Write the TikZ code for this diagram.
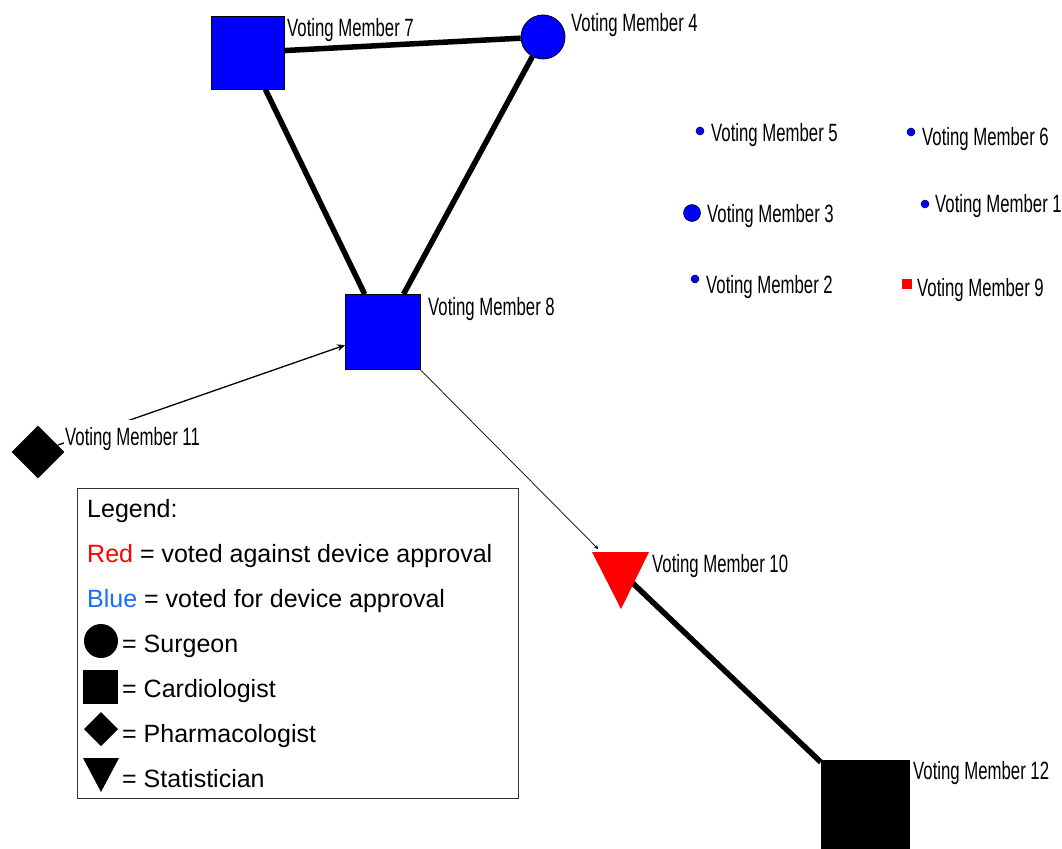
\documentclass[tikz,border=0pt]{standalone}
\usepackage{fontspec}
\setmainfont{Liberation Sans}
\newfontfamily\agency[FakeStretch=0.67]{Liberation Sans}
\usetikzlibrary{shapes.geometric,arrows.meta}
\pgfdeclarelayer{background}
\pgfsetlayers{background,main}
\definecolor{nodeblue}{RGB}{0,0,255}
\definecolor{nodered}{RGB}{255,0,0}
\definecolor{legblue}{RGB}{26,110,255}
\tikzset{
  member/.style={font=\agency\fontsize{25}{25}\selectfont, anchor=base west, inner sep=0pt},
  bluesq/.style={rectangle, draw=black, line width=0.8pt, fill=nodeblue, inner sep=0pt},
  bluedot/.style={circle, draw=black, line width=0.5pt, fill=nodeblue, inner sep=0pt},
  thickedge/.style={line width=5.5pt, black},
  thinedge/.style={line width=1.3pt, black},
  legtext/.style={font=\fontsize{25}{25}\selectfont, anchor=base west, inner sep=0pt},
}
\begin{document}
\begin{tikzpicture}[x=1pt,y=-1pt]
\useasboundingbox (0,0) rectangle (1062,848);

% main nodes
\node[bluesq, minimum size=73] (m7) at (247.5,52.5) {};
\node[circle, draw=black, line width=0.8pt, fill=nodeblue, minimum size=44, inner sep=0pt] (m4) at (543,37) {};
\node[bluesq, minimum size=75] (m8) at (383,332) {};
\node[diamond, fill=black, minimum size=53, inner sep=0pt] (m11) at (38,452) {};
\coordinate (m10) at (620,571);
\fill[nodered] (592,552) -- (649,552) -- (621,609) -- cycle;
\node[rectangle, fill=black, minimum size=89, inner sep=0pt] (m12) at (865.5,804.5) {};

% small nodes
\node[bluedot, minimum size=8] (m5) at (700,131) {};
\node[bluedot, minimum size=8] (m6) at (911,132) {};
\node[bluedot, minimum size=17] (m3) at (692,213) {};
\node[bluedot, minimum size=8] (m1) at (925,204) {};
\node[bluedot, minimum size=8] (m2) at (695,279) {};
\node[rectangle, fill=nodered, minimum size=10, inner sep=0pt] (m9) at (907,284) {};

% edges
\begin{pgfonlayer}{background}
\fill[white] (0,0) rectangle (1062,848);
\draw[thickedge] (m7) -- (m4);
\draw[thickedge] (m7) -- (m8);
\draw[thickedge] (m4) -- (m8);
\draw[thickedge] (m10) -- (m12);
\draw[thinedge, -{Stealth[length=8pt,width=7pt]}] (m11) -- (m8);
\draw[line width=0.7pt, black, -{Stealth[length=4pt,width=4pt]}, shorten >=31pt] (m8.center) -- (m10);
\end{pgfonlayer}

% labels
\node[member] (l7) at (287,37) {Voting Member 7};
\node[member] (l4) at (571,32) {Voting Member 4};
\node[member] (l8) at (428,315) {Voting Member 8};
\node[member, fill=white, inner xsep=1pt, inner ysep=7pt] (l11) at (64,445) {Voting Member 11};
\node[member] (l10) at (652,572) {Voting Member 10};
\node[member] (l12) at (913,779) {Voting Member 12};
\node[member] (l5) at (711,142) {Voting Member 5};
\node[member] (l6) at (922,146) {Voting Member 6};
\node[member] (l3) at (707,222) {Voting Member 3};
\node[member] (l1) at (935,212) {Voting Member 1};
\node[member] (l2) at (706,293) {Voting Member 2};
\node[member] (l9) at (917,296) {Voting Member 9};

% legend
\draw[line width=1pt, black!80] (77,488) rectangle (518,798);
\node[legtext] (lg0) at (87,517) {Legend:};
\node[legtext] (lg1) at (87,562) {\textcolor{nodered}{Red} = voted against device approval};
\node[legtext] (lg2) at (87,607) {\textcolor{legblue}{Blue} = voted for device approval};
\fill[black] (101,641) circle (17);
\node[legtext] (lg3) at (122,652) {= Surgeon};
\fill[black] (83,670) rectangle (118,704);
\node[legtext] (lg4) at (122,697) {= Cardiologist};
\fill[black] (101,712) -- (118,729) -- (101,746) -- (84,729) -- cycle;
\node[legtext] (lg5) at (122,742) {= Pharmacologist};
\fill[black] (83,758) -- (119,758) -- (101,792) -- cycle;
\node[legtext] (lg6) at (122,787) {= Statistician};
\end{tikzpicture}
\end{document}
